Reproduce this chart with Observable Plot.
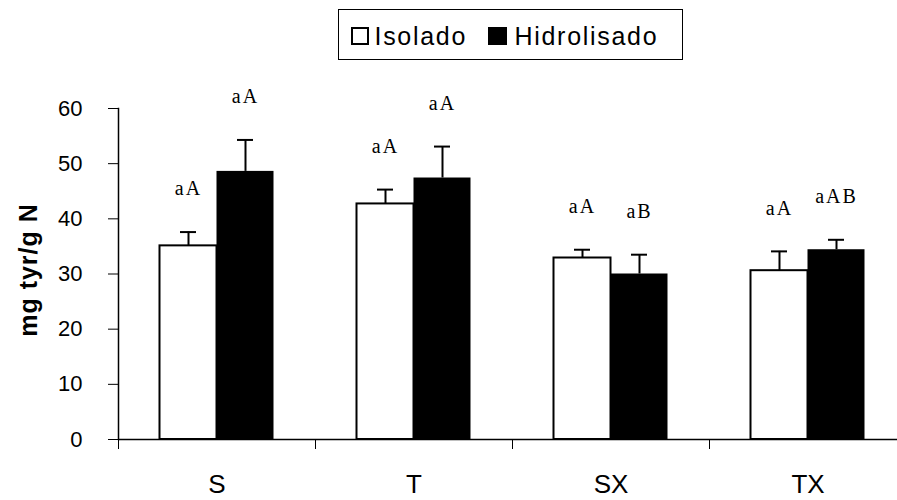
<!DOCTYPE html>
<html>
<head>
<meta charset="utf-8">
<script src="https://cdn.jsdelivr.net/npm/d3@7"></script>
<script src="https://cdn.jsdelivr.net/npm/@observablehq/plot@0.6"></script>
<style>
  body { margin: 0; background: #fff; }
  #chart { position: relative; width: 897px; height: 500px; font-family: "Liberation Sans", Arial, sans-serif; }
  #chart svg { position: absolute; left: 0; top: 0; }
  #legend { position: absolute; left: 338px; top: 9px; width: 345px; height: 51px; border: 1px solid #000; box-sizing: border-box; background: #fff; }
  #legend .sw { position: absolute; top: 17px; height: 18px; box-sizing: border-box; }
  #legend .sw.iso { left: 12px; width: 18px; border: 2px solid #000; background: #fff; }
  #legend .sw.hid { left: 149px; width: 19px; background: #000; }
  #legend .lab { position: absolute; top: 14px; font-size: 25px; line-height: 25px; letter-spacing: 1.7px; color: #000; white-space: nowrap; }
  .sig text { letter-spacing: 2px; }
  .ylab text { letter-spacing: 1px; }
</style>
</head>
<body>
<div id="chart">
  <div id="legend">
    <div class="sw iso"></div><span class="lab" style="left:35.5px">Isolado</span>
    <div class="sw hid"></div><span class="lab" style="left:175.5px">Hidrolisado</span>
  </div>
</div>
<script>
// Treatments and measured tyrosine (mg tyr/g N), mean and standard deviation
const categories = ["S", "T", "SX", "TX"];
const isolado = [35.1, 42.7, 32.9, 30.6];
const isoladoErr = [2.5, 2.6, 1.5, 3.5];
const hidrolisado = [48.6, 47.4, 30.0, 34.4];
const hidrolisadoErr = [5.7, 5.7, 3.5, 1.8];
// Significance letters above each bar
const isoladoLabels = ["aA", "aA", "aA", "aA"];
const hidrolisadoLabels = ["aA", "aA", "aB", "aAB"];
const yTicks = [0, 10, 20, 30, 40, 50, 60];
const yLabel = "mg tyr/g N";

const isoRows = categories.map((cat, i) => ({cat, value: isolado[i], err: isoladoErr[i], label: isoladoLabels[i]}));
const hidRows = categories.map((cat, i) => ({cat, value: hidrolisado[i], err: hidrolisadoErr[i], label: hidrolisadoLabels[i]}));
const capY = d => d.value + d.err;

// Geometry of the grouped bars inside each category band
const x0 = 118, x1 = 906;
const step = (x1 - x0) / categories.length;
const barW = 57;
const gap = (step - 2 * barW) / 2;
const off = barW / 2;
const capHalf = 8;

const svg = Plot.plot({
  width: 897,
  height: 500,
  marginTop: 108,
  marginBottom: 61,
  marginLeft: 118,
  marginRight: 0,
  style: {fontFamily: "'Liberation Sans', Arial, sans-serif", background: "transparent", color: "#000", overflow: "hidden"},
  x: {type: "band", domain: categories, range: [x0, x1], padding: 0},
  y: {domain: [0, 60]},
  marks: [
    Plot.barY(isoRows, {x: "cat", y: "value", fill: "#fff", stroke: "#000", strokeWidth: 2, insetLeft: gap, insetRight: gap + barW}),
    Plot.barY(hidRows, {x: "cat", y: "value", fill: "#000", insetLeft: gap + barW, insetRight: gap}),
    Plot.ruleX(isoRows, {x: "cat", y1: "value", y2: capY, dx: -off, stroke: "#000", strokeWidth: 2}),
    Plot.ruleX(hidRows, {x: "cat", y1: "value", y2: capY, dx: off, stroke: "#000", strokeWidth: 2}),
    Plot.tickY(isoRows, {x: "cat", y: capY, stroke: "#000", strokeWidth: 2,
      insetLeft: step / 2 - off - capHalf, insetRight: step / 2 + off - capHalf}),
    Plot.tickY(hidRows, {x: "cat", y: capY, stroke: "#000", strokeWidth: 2,
      insetLeft: step / 2 + off - capHalf, insetRight: step / 2 - off - capHalf}),
    Plot.text(isoRows, {x: "cat", y: capY, text: "label", dx: -off, dy: -43, fontSize: 20,
      fontFamily: "'Liberation Serif', 'Times New Roman', serif", fill: "#000", className: "sig"}),
    Plot.text(hidRows, {x: "cat", y: capY, text: "label", dx: off, dy: -43, fontSize: 20,
      fontFamily: "'Liberation Serif', 'Times New Roman', serif", fill: "#000", className: "sig"}),
    Plot.ruleY([0], {stroke: "#000", strokeWidth: 1.5}),
    Plot.frame({anchor: "left", stroke: "#000", strokeWidth: 1.5}),
    Plot.axisY({ticks: yTicks, tickSize: 10, tickPadding: 26, fontSize: 22, label: null, stroke: "#000"}),
    Plot.axisX({tickSize: 0, tickPadding: 35, fontSize: 26, label: null}),
    Plot.axisX({tickSize: 10, tickFormat: () => "", dx: -step / 2, label: null, stroke: "#000"}),
    Plot.text([yLabel], {frameAnchor: "left", textAnchor: "middle", rotate: -90, dx: -90, dy: -4,
      fontSize: 25, fontWeight: "bold", fill: "#000", className: "ylab"})
  ]
});

const chart = document.getElementById("chart");
chart.insertBefore(svg, chart.firstChild);
</script>
</body>
</html>
